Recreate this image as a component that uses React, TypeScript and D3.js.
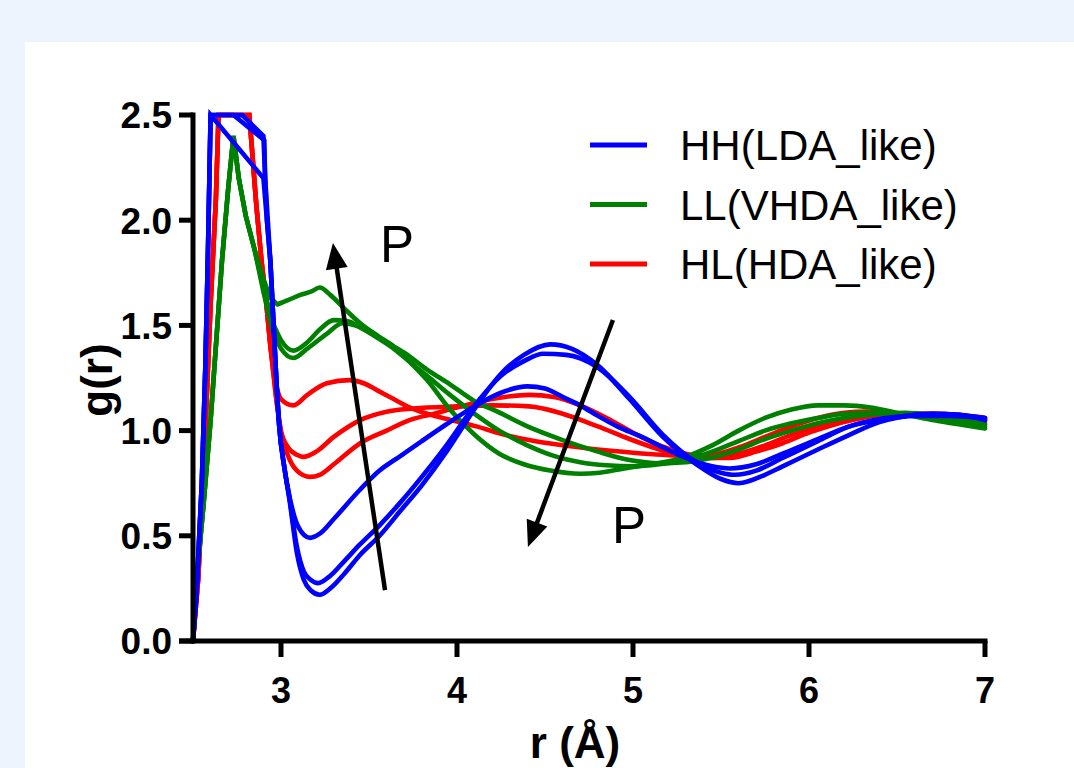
import React from "react";
import * as d3 from "d3";

// Radial distribution functions g(r) of amorphous ice configurations
// HH = LDA-like, LL = VHDA-like, HL = HDA-like; three pressures per family.

const xTicks = [3, 4, 5, 6, 7];
const yTicks = [0, 0.5, 1.0, 1.5, 2.0, 2.5];

const hh1: number[][] = [[2.5,0],[2.52,0.23],[2.55,0.75],[2.57,1.3],[2.585,1.85],[2.6,2.5],[2.75,2.35],[2.9,2.2],[2.94,1.8],[2.97,1.3],[2.99,1.02],[3.02,0.82],[3.05,0.66],[3.09,0.42],[3.13,0.29],[3.17,0.24],[3.22,0.22],[3.28,0.25],[3.36,0.32],[3.45,0.41],[3.56,0.5],[3.68,0.62],[3.8,0.74],[3.94,0.9],[4.05,1.04],[4.13,1.14],[4.25,1.27],[4.38,1.36],[4.53,1.41],[4.65,1.39],[4.8,1.31],[4.98,1.15],[5.17,0.97],[5.36,0.84],[5.5,0.77],[5.6,0.75],[5.75,0.79],[5.85,0.83],[6.05,0.91],[6.23,0.98],[6.4,1.04],[6.52,1.065],[6.7,1.08],[6.85,1.075],[7.0,1.05]];
const hh2: number[][] = [[2.5,0],[2.52,0.23],[2.55,0.75],[2.57,1.3],[2.585,1.85],[2.6,2.5],[2.73,2.5],[2.905,2.38],[2.91,2.2],[2.94,1.8],[2.97,1.3],[2.99,1.02],[3.02,0.82],[3.05,0.67],[3.09,0.45],[3.13,0.33],[3.17,0.29],[3.21,0.275],[3.28,0.31],[3.36,0.38],[3.45,0.46],[3.56,0.55],[3.68,0.66],[3.8,0.78],[3.94,0.93],[4.05,1.06],[4.13,1.15],[4.25,1.26],[4.38,1.33],[4.49,1.365],[4.62,1.36],[4.8,1.3],[4.98,1.16],[5.17,0.98],[5.36,0.85],[5.5,0.8],[5.58,0.79],[5.7,0.81],[5.85,0.87],[6.05,0.95],[6.23,1.02],[6.4,1.055],[6.55,1.07],[6.7,1.08],[6.85,1.075],[7.0,1.06]];
const hh3: number[][] = [[2.5,0],[2.52,0.23],[2.55,0.75],[2.57,1.3],[2.585,1.85],[2.6,2.5],[2.78,2.5],[2.9,2.4],[2.92,2.0],[2.94,1.8],[2.97,1.3],[2.99,1.02],[3.02,0.82],[3.05,0.68],[3.1,0.54],[3.165,0.49],[3.22,0.51],[3.3,0.58],[3.45,0.72],[3.56,0.81],[3.68,0.88],[3.8,0.95],[3.94,1.03],[4.05,1.09],[4.13,1.13],[4.25,1.18],[4.4,1.21],[4.5,1.2],[4.6,1.16],[4.7,1.12],[4.8,1.07],[4.91,1.02],[5.05,0.97],[5.17,0.92],[5.3,0.87],[5.45,0.83],[5.55,0.82],[5.7,0.84],[5.85,0.89],[6.05,0.96],[6.23,1.02],[6.4,1.05],[6.6,1.07],[6.8,1.07],[7.0,1.06]];

const ll1: number[][] = [[2.5,0],[2.52,0.29],[2.56,0.65],[2.6,1.05],[2.63,1.4],[2.665,1.81],[2.7,2.15],[2.73,2.4],[2.76,2.2],[2.8,2.02],[2.85,1.86],[2.9,1.72],[2.94,1.63],[2.98,1.6],[3.04,1.62],[3.11,1.645],[3.17,1.66],[3.22,1.68],[3.28,1.645],[3.36,1.58],[3.45,1.51],[3.55,1.45],[3.64,1.4],[3.74,1.32],[3.83,1.24],[3.96,1.1],[4.1,0.98],[4.24,0.89],[4.38,0.84],[4.53,0.81],[4.7,0.795],[4.81,0.8],[4.95,0.82],[5.1,0.84],[5.28,0.87],[5.45,0.93],[5.6,1.0],[5.75,1.06],[5.9,1.1],[6.05,1.12],[6.2,1.12],[6.35,1.11],[6.52,1.08],[6.7,1.05],[6.85,1.03],[7.0,1.01]];
const ll2: number[][] = [[2.5,0],[2.52,0.29],[2.56,0.65],[2.6,1.05],[2.63,1.4],[2.665,1.81],[2.7,2.15],[2.73,2.4],[2.76,2.2],[2.8,2.02],[2.85,1.86],[2.9,1.68],[2.95,1.52],[3.0,1.43],[3.07,1.38],[3.15,1.42],[3.22,1.48],[3.3,1.525],[3.38,1.52],[3.45,1.49],[3.55,1.44],[3.64,1.39],[3.74,1.32],[3.83,1.26],[3.96,1.17],[4.1,1.08],[4.24,1.0],[4.4,0.93],[4.55,0.88],[4.7,0.85],[4.85,0.835],[5.0,0.83],[5.15,0.84],[5.3,0.86],[5.45,0.9],[5.6,0.95],[5.75,1.0],[5.9,1.035],[6.05,1.06],[6.2,1.08],[6.35,1.085],[6.5,1.08],[6.7,1.06],[6.85,1.04],[7.0,1.02]];
const ll3: number[][] = [[2.5,0],[2.52,0.29],[2.56,0.65],[2.6,1.05],[2.63,1.4],[2.665,1.81],[2.7,2.15],[2.73,2.4],[2.76,2.2],[2.8,2.02],[2.85,1.86],[2.9,1.66],[2.95,1.48],[3.0,1.39],[3.07,1.345],[3.15,1.39],[3.26,1.46],[3.35,1.51],[3.42,1.5],[3.5,1.47],[3.6,1.42],[3.7,1.37],[3.83,1.29],[3.96,1.22],[4.1,1.14],[4.23,1.09],[4.4,1.02],[4.6,0.955],[4.8,0.9],[4.98,0.86],[5.15,0.845],[5.3,0.85],[5.44,0.87],[5.6,0.91],[5.75,0.96],[5.9,1.0],[6.05,1.035],[6.2,1.06],[6.4,1.08],[6.55,1.085],[6.7,1.075],[6.85,1.06],[7.0,1.03]];

const hl1: number[][] = [[2.5,0],[2.53,0.3],[2.57,1.0],[2.6,1.6],[2.63,2.1],[2.645,2.5],[2.82,2.5],[2.86,2.07],[2.89,1.8],[2.915,1.62],[2.94,1.4],[2.97,1.22],[3.0,1.15],[3.07,1.12],[3.15,1.17],[3.26,1.225],[3.39,1.24],[3.47,1.225],[3.55,1.19],[3.64,1.15],[3.73,1.11],[3.83,1.08],[3.92,1.06],[4.11,1.02],[4.25,0.985],[4.41,0.955],[4.6,0.93],[4.8,0.91],[5.0,0.895],[5.17,0.885],[5.3,0.88],[5.45,0.885],[5.6,0.92],[5.75,0.97],[5.9,1.02],[6.05,1.06],[6.2,1.085],[6.33,1.09],[6.5,1.08],[6.7,1.07],[6.85,1.055],[7.0,1.04]];
const hl2: number[][] = [[2.5,0],[2.53,0.3],[2.57,1.0],[2.6,1.6],[2.63,2.1],[2.645,2.5],[2.82,2.5],[2.86,2.07],[2.89,1.8],[2.915,1.62],[2.94,1.4],[2.97,1.18],[3.0,1.0],[3.04,0.92],[3.09,0.885],[3.125,0.875],[3.2,0.9],[3.3,0.97],[3.45,1.05],[3.6,1.09],[3.75,1.105],[4.0,1.115],[4.2,1.12],[4.41,1.115],[4.6,1.08],[4.8,1.02],[4.98,0.96],[5.15,0.91],[5.3,0.875],[5.45,0.87],[5.6,0.89],[5.75,0.93],[5.9,0.98],[6.05,1.02],[6.2,1.05],[6.4,1.075],[6.6,1.08],[6.8,1.075],[7.0,1.05]];
const hl3: number[][] = [[2.5,0],[2.53,0.3],[2.57,1.0],[2.6,1.6],[2.63,2.1],[2.645,2.5],[2.82,2.5],[2.86,2.07],[2.89,1.8],[2.915,1.62],[2.94,1.4],[2.97,1.17],[3.0,0.99],[3.04,0.88],[3.09,0.81],[3.165,0.78],[3.22,0.79],[3.3,0.84],[3.45,0.94],[3.6,1.0],[3.73,1.05],[3.87,1.08],[4.0,1.11],[4.2,1.15],[4.41,1.17],[4.55,1.16],[4.7,1.12],[4.85,1.06],[5.0,0.99],[5.15,0.93],[5.3,0.89],[5.45,0.87],[5.55,0.87],[5.7,0.9],[5.85,0.94],[6.0,0.99],[6.15,1.03],[6.3,1.06],[6.5,1.08],[6.7,1.08],[6.85,1.075],[7.0,1.06]];

const legendNames = ["HH(LDA_like)", "LL(VHDA_like)", "HL(HDA_like)"];
const legendColors = ["#0000ff", "#008000", "#ff0000"];

// pressure arrows, [r, g] start -> tip
const arrowUp = [[3.591, 0.242], [3.295, 1.892]];
const arrowDown = [[4.886, 1.526], [4.403, 0.447]];
const pLabels = [[3.562, 1.801], [4.881, 0.466]];

// first-peak points (clipped at the axis top) are joined with straight
// segments; the rest of each curve is drawn smooth
const PEAK_END = 2.95;

const FONT = "'Liberation Sans', Arial, Helvetica, sans-serif";

export default function App() {
  const x = d3.scaleLinear().domain([2.5, 7]).range([193, 985]);
  const y = d3.scaleLinear().domain([0, 2.5]).range([641, 115]);
  const straight = d3
    .line<number[]>()
    .x((d) => x(d[0]))
    .y((d) => y(d[1]));
  const smooth = d3
    .line<number[]>()
    .x((d) => x(d[0]))
    .y((d) => y(d[1]))
    .curve(d3.curveMonotoneX);

  const pathFor = (data: number[][]) => {
    const k = data.findIndex((d) => d[0] >= PEAK_END);
    const head = data.slice(0, k + 1);
    const tail = data.slice(k);
    return (straight(head) as string) + (smooth(tail) as string).replace(/^M/, "L");
  };

  const series = [
    { data: hl1, color: "#ff0000" },
    { data: hl2, color: "#ff0000" },
    { data: hl3, color: "#ff0000" },
    { data: ll1, color: "#008000" },
    { data: ll2, color: "#008000" },
    { data: ll3, color: "#008000" },
    { data: hh1, color: "#0000ff" },
    { data: hh2, color: "#0000ff" },
    { data: hh3, color: "#0000ff" },
  ];

  const fmt = d3.format(".1f");

  const arrow = (a: number[][], key: string) => {
    const x0 = x(a[0][0]), y0 = y(a[0][1]);
    const x1 = x(a[1][0]), y1 = y(a[1][1]);
    const len = Math.hypot(x1 - x0, y1 - y0);
    const ux = (x1 - x0) / len, uy = (y1 - y0) / len;
    const hl = 26, hw = 11;
    const bx = x1 - ux * hl, by = y1 - uy * hl;
    const px = -uy, py = ux;
    const pts = [
      [x1, y1],
      [bx + px * hw, by + py * hw],
      [bx - px * hw, by - py * hw],
    ];
    return (
      <g key={key}>
        <line x1={x0} y1={y0} x2={bx + ux * 2} y2={by + uy * 2} stroke="#000" strokeWidth={4.5} />
        <polygon points={pts.map((p) => p.join(",")).join(" ")} fill="#000" />
      </g>
    );
  };

  return (
    <svg
      width={1074}
      height={768}
      style={{ position: "absolute", left: 0, top: 0, display: "block" }}
      fontFamily={FONT}
    >
      <rect x={0} y={0} width={1074} height={768} fill="#eef4fd" />
      <rect x={25} y={42} width={1049} height={726} fill="#ffffff" />

      {/* data */}
      <g fill="none" strokeWidth={4.6} strokeLinejoin="miter" strokeMiterlimit={3} strokeLinecap="round">
        {series.map((s, i) => (
          <path key={i} d={pathFor(s.data)} stroke={s.color} />
        ))}
      </g>

      {/* y axis */}
      <line x1={193} x2={193} y1={y(2.5) - 2.5} y2={y(0) + 2.5} stroke="#000" strokeWidth={5} />
      {yTicks.map((t) => (
        <g key={t}>
          <line x1={179} x2={193} y1={y(t)} y2={y(t)} stroke="#000" strokeWidth={5} />
          <text
            x={172}
            y={y(t)}
            dy="0.36em"
            textAnchor="end"
            fontSize={37}
            fontWeight="bold"
          >
            {fmt(t)}
          </text>
        </g>
      ))}

      {/* x axis */}
      <line x1={179} x2={x(7) + 2.5} y1={y(0)} y2={y(0)} stroke="#000" strokeWidth={5} />
      {xTicks.map((t) => (
        <g key={t}>
          <line x1={x(t)} x2={x(t)} y1={y(0)} y2={y(0) + 16} stroke="#000" strokeWidth={5} />
          <text x={x(t)} y={703} textAnchor="middle" fontSize={36} fontWeight="bold">
            {t}
          </text>
        </g>
      ))}

      <text x={575} y={758} textAnchor="middle" fontSize={44} fontWeight="bold">
        r (Å)
      </text>
      <text
        transform={`translate(112, 380) rotate(-90)`}
        textAnchor="middle"
        fontSize={44}
        fontWeight="bold"
      >
        g(r)
      </text>

      {/* legend */}
      {legendNames.map((n, i) => (
        <g key={n} transform={`translate(0, ${145 + i * 59.5})`}>
          <line x1={590} x2={647} y1={0} y2={0} stroke={legendColors[i]} strokeWidth={5} />
          <text x={680} y={15} fontSize={42}>
            {n}
          </text>
        </g>
      ))}

      {/* pressure annotations */}
      {arrow(arrowUp, "up")}
      {arrow(arrowDown, "down")}
      {pLabels.map((p, i) => (
        <text key={i} x={x(p[0])} y={y(p[1])} fontSize={51}>
          P
        </text>
      ))}
    </svg>
  );
}
